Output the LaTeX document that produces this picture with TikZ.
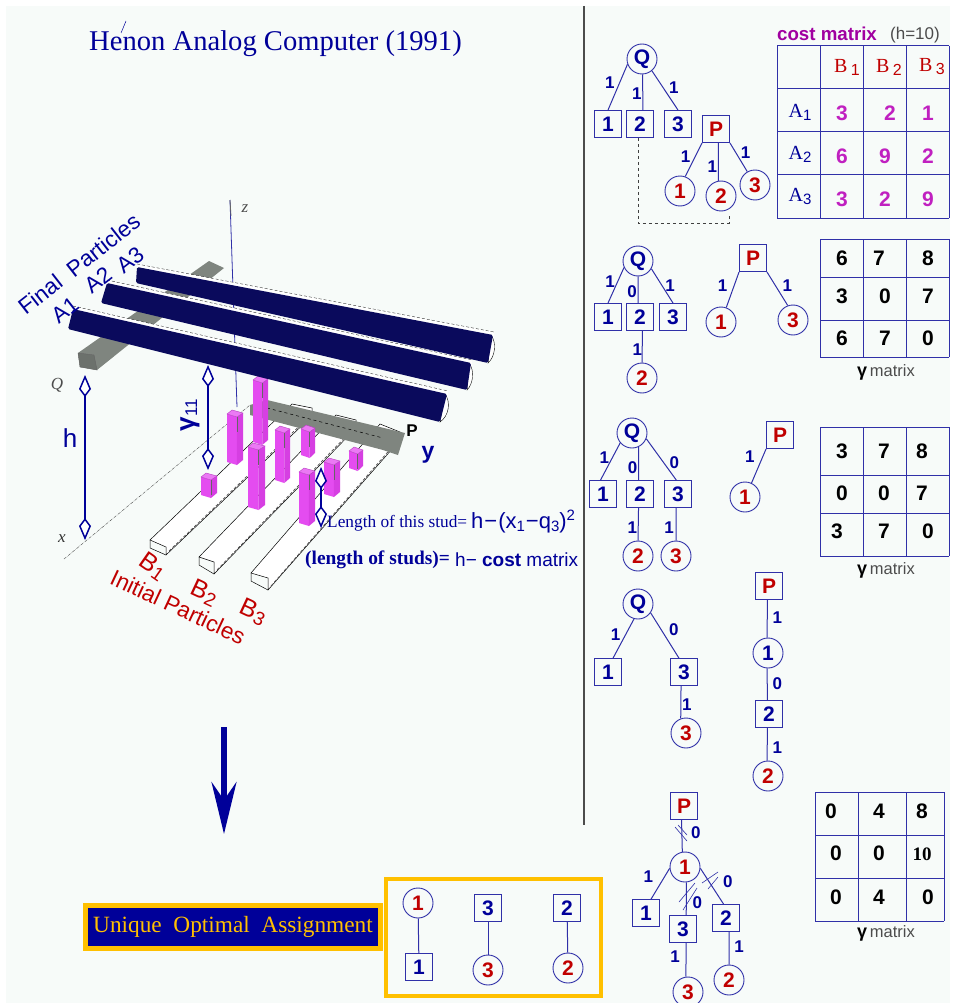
\documentclass[tikz,border=0pt]{standalone}
\usepackage{xcolor}
\usepackage{fontspec}
\setmainfont{Liberation Serif}
\setsansfont{Liberation Sans}
\usepackage{tikz}
\usetikzlibrary{arrows.meta,positioning}

\definecolor{paper}{HTML}{F7FBF9}
\definecolor{inkblue}{HTML}{000099}
\definecolor{lineblue}{HTML}{3030A8}
\definecolor{barnavy}{HTML}{0A0A5C}
\definecolor{partred}{HTML}{C00000}
\definecolor{studpink}{HTML}{E44CF0}
\definecolor{studside}{HTML}{D63FE2}
\definecolor{beamgray}{HTML}{7F857F}
\definecolor{gold}{HTML}{FFC000}
\definecolor{costpink}{HTML}{C020C0}
\definecolor{costtitle}{HTML}{A000A0}

\newcommand{\fs}[1]{\fontsize{#1}{#1}\selectfont}
\newcommand{\lowfig}[2]{\raisebox{-3pt}{\fs{#1}#2}}

\begin{document}
\begin{tikzpicture}[x=1pt, y=-1pt,
    sqbox/.style={rectangle, draw=lineblue, line width=0.9pt, minimum size=27pt, inner sep=0pt, font=\sffamily\bfseries\fs{21}, text=inkblue},
    ptbox/.style={sqbox, text=partred},
    qcirc/.style={circle, draw=lineblue, line width=0.9pt, minimum size=30pt, inner sep=0pt, font=\sffamily\bfseries\fs{21}, text=inkblue},
    pcirc/.style={qcirc, text=partred},
    edge/.style={draw=lineblue, line width=1pt},
    wt/.style={inner sep=0pt, font=\sffamily\bfseries\fs{17}, text=inkblue},
    gridline/.style={draw=lineblue, line width=1pt},
    cost/.style={inner sep=0pt, font=\sffamily\bfseries\fs{21}, text=costpink},
    gval/.style={inner sep=0pt, font=\sffamily\bfseries\fs{21}, text=black},
    glabel/.style={inner sep=0pt, text=black!70, font=\sffamily\fs{16.5}},
    blab/.style={inner sep=0pt, font=\sffamily\fs{22.5}, text=inkblue},
    rlab/.style={inner sep=0pt, font=\sffamily\fs{22.6}, text=partred},
    span/.style={draw=inkblue, line width=1.5pt, {Kite[length=22pt,width=12pt,inset=8pt,fill=white]}-{Kite[length=22pt,width=12pt,inset=8pt,fill=white]}}]

    \useasboundingbox (0,0) rectangle (954,1003);
    \fill[paper] (6,6) rectangle (950,1003);
    \draw[black!70, line width=1.5pt] (584,6) -- (584,825);

    % title
    \node[inner sep=0pt, text=inkblue, font=\fs{28.6}] (title) at (275.5,44) {Henon Analog Computer (1991)};
    \draw[inkblue, line width=0.5pt] (121,33) -- (126,21);

    % base rails
    \foreach \xa/\ya/\xb/\yb/\xc/\yc/\xd/\yd/\dy in {
        150/540/166/547/292/404/312/408/8,
        199/557/214/562/336/415/356/420/12,
        251/573/268/578/380/424/400/432/12} {
        \draw[fill=white, line width=0.5pt] (\xa,\ya) -- (\xb,\yb) -- ++(0,\dy) -- (\xd,\yd+8) -- (\xd,\yd) -- (\xc,\yc) -- cycle;
        \draw[line width=0.5pt] (\xa,\ya) -- ++(0,8) -- (\xb,\yb+\dy);
        \draw[black!70, densely dashed, line width=0.7pt] (\xb+3,\yb+\dy-4) -- (\xd,\yd+6);
    }
    % beam P
    \fill[beamgray] (250,405) -- (267,400) -- (405,433) -- (398,455) -- (383,450) -- (250,415) -- cycle;
    \draw[black, dashed, line width=0.5pt] (267,408) -- (383,438);
    \node[inner sep=0pt, font=\sffamily\bfseries\fs{17}] (plab) at (412,431) {P};
    \node[inner sep=0pt, font=\sffamily\bfseries\fs{23}, text=inkblue] (ylab) at (428,455) {y};

    % beam Q
    \fill[beamgray] (78,353) -- (209,261) -- (224,268) -- (97,370) -- (80,367) -- cycle;
    \draw[black!60, fill=beamgray!85!black, line width=0.4pt] (78,353) -- (94,355) -- (97,370) -- (80,367) -- cycle;
    \node[inner sep=0pt, font=\itshape\fs{17}, text=black!70] (qlab) at (57,385) {Q};

    % axes
    \draw[lineblue, line width=0.8pt] (230,200) -- (237,407);
    \draw[black!60, line width=0.8pt] (230,200) -- (231,216);
    \draw[black!70, densely dashdotted, line width=0.4pt] (64,559) -- (250,405);
    \node[inner sep=0pt, font=\itshape\fs{17}, text=black!70] (zlab) at (245,209) {z};
    \node[inner sep=0pt, font=\itshape\fs{17}, text=black!80] (xlab) at (62,539) {x};

    % studs
    \foreach \xa/\xb/\ya/\yb in {
        253/268/378/445, 301/315/427/458, 275/290/428/483, 227/243/412/465,
        349/363/449/471, 324/340/460/497, 248/265/445/510, 201/217/475/498, 299/315/470/526} {
        \pgfmathsetmacro{\xm}{\xa+0.62*(\xb-\xa)}
        \fill[studpink] (\xa,\ya+2) -- (\xm,\ya+5) -- (\xm,\yb) -- (\xa,\yb-3) -- cycle;
        \fill[studside] (\xm,\ya+5) -- (\xb,\ya+1) -- (\xb,\yb-5) -- (\xm,\yb) -- cycle;
        \draw[studpink!80!black, fill=studpink!75!white, line width=0.4pt] (\xa,\ya+2) -- (\xa+5,\ya-2) -- (\xb,\ya+1) -- (\xm,\ya+5) -- cycle;
        \draw[black!60, line width=0.4pt] (\xm,\ya+5) -- (\xm,\ya+20);
    }

    % final particle bars
    \foreach \xa/\ya/\xb/\yb/\xc/\yc/\xd/\yd in {
        137/267/494/335/488/363/136/283,
        107/283/472/363/467/390/101/303,
        73/309/448/394/440/422/68/329} {
        \fill[white] (\xa,\ya-3) -- (\xb,\yb-3) -- (\xb,\yb+4) -- (\xa,\ya+4) -- cycle;
        \draw[black, densely dashed, line width=0.3pt] (\xa,\ya-3) -- (\xb,\yb-3);
        \draw[black, fill=white, line width=0.4pt] (\xb-3,\yb) .. controls (\xb+3,\yb+8) and (\xb+1,\yc-6+0) .. (\xc,\yc) -- cycle;
        \fill[barnavy, rounded corners=1.5pt] (\xa,\ya) -- (\xb-1,\yb) -- (\xc,\yc) -- (\xd,\yd) -- cycle;
    }

    % spans
    \coordinate (htop) at (85,375);
    \coordinate (hbot) at (85,540);
    \coordinate (gtop) at (208,365);
    \coordinate (gbot) at (208,470);
    \coordinate (stop) at (321,467);
    \coordinate (sbot) at (321,528);
    \draw[span] (htop) -- (hbot);
    \draw[span] (gtop) -- (gbot);
    \draw[span] (stop) -- (sbot);
    \node[inner sep=0pt, font=\sffamily\fs{26}, text=inkblue] (hlab) at (70,438) {h};
    \node[inner sep=0pt, rotate=90, text=inkblue, font=\sffamily\bfseries\fs{26}] (gamlab) at (190,415) {γ\lowfig{17}{\mdseries 11}};

    % particle labels
    \node[blab, rotate=38] (final) at (79,264) {Final\ \ Particles};
    \node[blab, rotate=38] (lbla) at (65,310) {A1};
    \node[blab, rotate=38] (lblb) at (98,280) {A2};
    \node[blab, rotate=38] (lblc) at (130,260) {A3};
    \node[rlab, rotate=-35, font=\sffamily\fs{25}] (lblp) at (153,566) {B\lowfig{19}{1}};
    \node[rlab, rotate=-25, font=\sffamily\fs{25}] (lblq) at (204,593) {B\lowfig{19}{2}};
    \node[rlab, rotate=-25, font=\sffamily\fs{25}] (lblr) at (253,612) {B\lowfig{19}{3}};
    \node[rlab, rotate=-25] (init) at (178,607) {Initial Particles};

    % formula lines
    \node[inner sep=0pt, anchor=west, text=inkblue, font=\fs{17.3}] (studlen) at (327,523) {Length of this stud=};
    \node[inner sep=0pt, anchor=west, text=inkblue, font=\sffamily\fs{22}] (studeq) at (471,522) {h\kern1pt−\kern1pt(x\lowfig{15}{1}\kern1pt−q\lowfig{15}{3})\raisebox{8pt}{\fs{15}2}};
    \node[inner sep=0pt, anchor=west, text=inkblue, font=\bfseries\fs{19.4}] (studnote) at (305,560) {(length of studs)=};
    \node[inner sep=0pt, anchor=west, text=inkblue, font=\sffamily\fs{19}] (studcost) at (455,560) {h− \textbf{cost} matrix};

    % big arrow
    \coordinate (arrtop) at (224,727);
    \coordinate (arrtip) at (224,834);
    \draw[inkblue, line width=5.5pt, -{Stealth[length=52pt,width=25pt,inset=18pt]}] (arrtop) -- (arrtip);

    % result
    \node[draw=gold, fill=inkblue, line width=4.5pt, minimum width=295pt, minimum height=43pt, inner sep=0pt, text=gold, font=\fs{23.3}] (uniq) at (233,927) {Unique\ \ Optimal\ \ Assignment};
    \draw[gold, line width=3.5pt] (386,879) rectangle (601,996);
    \node[pcirc] (ra) at (418,903) {1};
    \node[sqbox] (rb) at (419,967) {1};
    \node[sqbox] (rc) at (488,908) {3};
    \node[pcirc] (rd) at (488,970) {3};
    \node[sqbox] (re) at (567,908) {2};
    \node[pcirc] (rf) at (568,968) {2};
    \draw[edge] (ra) -- (rb);
    \draw[edge] (rc) -- (rd);
    \draw[edge] (re) -- (rf);

    % first pair of trees
    \node[qcirc] (q1) at (642,59) {Q};
    \node[sqbox] (a1) at (608,124) {1};
    \node[sqbox] (a2) at (640,124) {2};
    \node[sqbox] (a3) at (678,124) {3};
    \node[ptbox] (p1) at (716,129) {P};
    \node[pcirc] (b1) at (680,191) {1};
    \node[pcirc] (b2) at (721,196) {2};
    \node[pcirc] (b3) at (755,185) {3};
    \draw[edge] (q1.200) -- node[wt, shift={(-8,-5)}] (w1) {1} (a1.north);
    \draw[edge] (q1.-88) -- node[wt, shift={(-6,1)}] (w2) {1} (a2.78);
    \draw[edge] (q1.-50) -- node[wt, shift={(9,-3)}] (w3) {1} (a3.north);
    \draw[edge] (p1.south west) -- node[wt, shift={(-8,-3)}] (w4) {1} (b1.70);
    \draw[edge] (p1.-80) -- node[wt, shift={(-6,5)}] (w5) {1} (b2.100);
    \draw[edge] (p1.south east) -- node[wt, shift={(7,-5)}] (w6) {1} (b3.120);
    \coordinate (bend) at (729,223);
    \coordinate (dashend) at (729,215);
    \draw[black!75, dashed, line width=0.7pt] (a2.-98) |- (bend) -- (dashend);

    % second pair of trees
    \node[qcirc] (q2) at (638,261) {Q};
    \node[sqbox] (c1) at (608,317) {1};
    \node[sqbox] (c2) at (640,317) {2};
    \node[sqbox] (c3) at (673,317) {3};
    \node[pcirc] (d2) at (642,378) {2};
    \node[ptbox] (p2) at (753,258) {P};
    \node[pcirc] (e1) at (721,322) {1};
    \node[pcirc] (e3) at (793,320) {3};
    \draw[edge] (q2.205) -- node[wt, shift={(-6,-4)}] (w7) {1} (c1.north);
    \draw[edge] (q2.south) -- node[wt, shift={(-6,2)}] (w8) {0} (c2.98);
    \draw[edge] (q2.-30) -- node[wt, shift={(8,0)}] (w9) {1} (c3.north);
    \draw[edge] (c2.-80) -- node[wt, shift={(-5,3)}] (w10) {1} (d2.north);
    \draw[edge] (p2.south west) -- node[wt, shift={(-10,-4)}] (w11) {1} (e1.70);
    \draw[edge] (p2.south east) -- node[wt, shift={(10,-3)}] (w12) {1} (e3.110);

    % third pair of trees
    \node[qcirc] (q3) at (632,433) {Q};
    \node[sqbox] (f1) at (603,494) {1};
    \node[sqbox] (f2) at (640,494) {2};
    \node[sqbox] (f3) at (678,494) {3};
    \node[pcirc] (g2) at (638,556) {2};
    \node[pcirc] (g3) at (676,556) {3};
    \node[ptbox] (p3) at (780,435) {P};
    \node[pcirc] (h1) at (745,497) {1};
    \draw[edge] (q3.220) -- node[wt, shift={(-6,-4)}] (w13) {1} (f1.100);
    \draw[edge] (q3.-65) -- node[wt, shift={(-6,4)}] (w14) {0} (f2.96);
    \draw[edge] (q3.-22) -- node[wt, shift={(13,3)}] (w15) {0} (f3.97);
    \draw[edge] (f2.-96) -- node[wt, shift={(-6,3)}] (w16) {1} (g2.north);
    \draw[edge] (f3.-98) -- node[wt, shift={(-7,3)}] (w17) {1} (g3.north);
    \draw[edge] (p3.south west) -- node[wt, shift={(-9,-9)}] (w18) {1} (h1.65);

    % fourth pair of trees
    \node[qcirc] (q4) at (638,604) {Q};
    \node[sqbox] (k1) at (608,672) {1};
    \node[sqbox] (k3) at (684,672) {3};
    \node[pcirc] (m3) at (686,733) {3};
    \node[ptbox] (p4) at (769,586) {P};
    \node[qcirc] (n1) at (768,653) {1};
    \node[sqbox] (n3) at (769,714) {2};
    \node[pcirc] (n2) at (768,776) {2};
    \draw[edge] (q4.-105) -- node[wt, shift={(-8,-4)}] (w19) {1} (k1.70);
    \draw[edge] (q4.-35) -- node[wt, shift={(9,-6)}] (w20) {0} (k3.110);
    \draw[edge] (k3.-102) -- node[wt, shift={(6,2)}] (w21) {1} (m3.110);
    \draw[edge] (p4.-97) -- node[wt, shift={(10,-1)}] (w22) {1} (n1.93);
    \draw[edge] (n1.-93) -- node[wt, shift={(10,-1)}] (w23) {0} (n3.97);
    \draw[edge] (n3.-97) -- node[wt, shift={(10,3)}] (w24) {1} (n2.93);

    % last tree
    \node[ptbox] (u1) at (684,806) {P};
    \node[pcirc] (v1) at (685,867) {1};
    \node[sqbox] (s1) at (646,913) {1};
    \node[sqbox] (s3) at (683,929) {3};
    \node[sqbox] (s2) at (726,918) {2};
    \node[pcirc] (t3) at (688,992) {3};
    \node[pcirc] (t2) at (729,980) {2};
    \draw[edge] (u1.-100) -- node[wt, shift={(14,-3)}] (w25) {0} (v1.100);
    \draw[edge] (v1.185) -- node[wt, shift={(-12,-7)}] (w26) {1} (s1.70);
    \draw[edge] (v1.-85) -- node[wt, shift={(11,4)}] (w27) {0} (s3.77);
    \draw[edge] (v1.-5) -- node[wt, shift={(16,-5)}] (w28) {0} (s2.100);
    \draw[edge] (s3.-77) -- node[wt, shift={(-11,-3)}] (w29) {1} (t3.98);
    \draw[edge] (s2.-77) -- node[wt, shift={(10,-2)}] (w30) {1} (t2.north);
    \foreach \xa/\ya/\xb/\yb in {
        675/827/687/841, 678/825/687/835,
        679/902/695/883, 683/910/697/888,
        702/883/718/872, 708/889/718/877}
        \draw[edge, line width=0.6pt] (\xa,\ya) -- (\xb,\yb);

    % cost matrix
    \node[inner sep=0pt, text=costtitle, font=\sffamily\bfseries\fs{18.7}] (costname) at (827,34) {cost matrix};
    \node[inner sep=0pt, text=black!70, font=\sffamily\fs{17}] (costh) at (915,35) {(h=10)};
    \foreach \xx in {777,820,863,906,949} \draw[gridline] (\xx,46) -- (\xx,218);
    \foreach \yy in {46,89,132,175,218} \draw[gridline] (777,\yy) -- (949,\yy);
    \foreach \xx/\yy/\val [count=\k] in {
        842/113/3, 890/113/2, 928/113/1,
        842/156/6, 885/156/9, 928/156/2,
        842/199/3, 885/199/2, 928/199/9}
        \node[cost] (cm\k) at (\xx,\yy) {\val};
    \foreach \xx/\ss [count=\k] in {847/1, 889/2, 932/3}
        \node[inner sep=0pt, text=partred, font=\fs{20}] (cb\k) at (\xx,67) {B\,\lowfig{16}{\sffamily\ss}};
    \foreach \yy/\ss [count=\k] in {112/1, 154/2, 196/3}
        \node[inner sep=0pt, text=inkblue, font=\fs{20}] (ca\k) at (800,\yy) {A\lowfig{15}{\sffamily\ss}};

    % gamma matrices
    \foreach \xx in {820,863,906,949} \draw[gridline] (\xx,239) -- (\xx,357);
    \foreach \yy in {239,277,320,357} \draw[gridline] (820,\yy) -- (949,\yy);
    \foreach \xx/\yy/\val [count=\k] in {
        842/258/6, 879/258/7, 928/258/8,
        842/296/3, 885/296/0, 928/296/7,
        842/338/6, 885/338/7, 928/338/0}
        \node[gval] (ga\k) at (\xx,\yy) {\val};
    \node[glabel] (glaba) at (886,372) {\textbf{\textcolor{black}{\fs{18}γ}}\,matrix};

    \foreach \xx in {820,863,906,949} \draw[gridline] (\xx,427) -- (\xx,556);
    \foreach \yy in {427,475,513,556} \draw[gridline] (820,\yy) -- (949,\yy);
    \foreach \xx/\yy/\val [count=\k] in {
        842/451/3, 884/451/7, 922/451/8,
        842/493/0, 884/493/0, 922/493/7,
        837/531/3, 884/531/7, 928/531/0}
        \node[gval] (gb\k) at (\xx,\yy) {\val};
    \node[glabel] (glabb) at (886,570) {\textbf{\textcolor{black}{\fs{18}γ}}\,matrix};

    \foreach \xx in {815,858,906,944} \draw[gridline] (\xx,792) -- (\xx,921);
    \foreach \yy in {792,835,878,921} \draw[gridline] (815,\yy) -- (944,\yy);
    \foreach \xx/\yy/\val [count=\k] in {
        831/811/0, 879/811/4, 922/811/8,
        836/853/0, 879/853/0,
        836/897/0, 879/897/4, 928/897/0}
        \node[gval] (gc\k) at (\xx,\yy) {\val};
    \node[gval, font=\bfseries\fs{19}] (gcten) at (922,854) {10};
    \node[glabel] (glabc) at (886,933) {\textbf{\textcolor{black}{\fs{18}γ}}\,matrix};
\end{tikzpicture}
\end{document}
